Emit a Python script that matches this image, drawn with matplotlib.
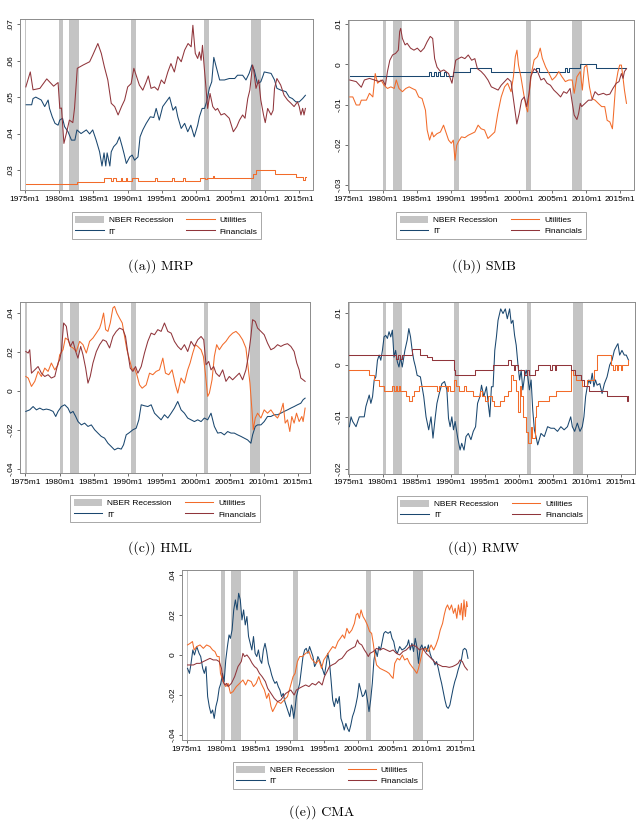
import matplotlib
matplotlib.use("Agg")
import matplotlib.pyplot as plt
from matplotlib.patches import Patch
from matplotlib.lines import Line2D

plt.rcParams['font.family'] = ['Liberation Sans', 'DejaVu Sans']

# NBER recessions (start, end) in fractional years
recessions = [(1975.0, 1975.17), (1980.0, 1980.5), (1981.5, 1982.83),
              (1990.5, 1991.17), (2001.17, 2001.83), (2007.92, 2009.42)]

# ---- (a) MRP ----
mrp_it = [(1975.2,.0479),(1976.0,.0479),(1976.2,.0496),(1976.6,.0500),(1977.4,.0492),(1977.9,.0474),(1978.4,.0492),
          (1978.6,.0469),(1979.0,.0446),(1979.4,.0428),(1979.85,.0423),(1980.1,.0437),(1980.5,.0442),(1980.8,.0419),
          (1981.3,.0405),(1981.8,.0382),(1982.3,.0382),(1982.6,.0410),(1983.2,.0400),(1983.97,.0410),(1984.45,.0399),
          (1984.9,.0410),(1985.4,.0382),(1985.9,.0350),(1986.25,.0311),(1986.55,.0347),(1986.8,.0311),(1987.0,.0347),
          (1987.4,.0311),(1987.6,.0350),(1987.95,.0364),(1988.4,.0373),(1988.8,.0391),(1989.2,.0364),(1989.45,.0346),
          (1989.8,.0318),(1990.3,.0336),(1990.65,.0341),(1991.0,.0327),(1991.5,.0336),(1991.8,.0391),(1992.2,.0410),
          (1992.7,.0428),(1993.3,.0446),(1993.8,.0444),(1994.15,.0469),(1994.6,.0437),(1995.1,.0474),(1995.6,.0487),
          (1996.1,.0500),(1996.6,.0464),(1997.0,.0474),(1997.3,.0446),(1997.8,.0414),(1998.3,.0428),(1998.75,.0405),
          (1999.2,.0423),(1999.7,.0391),(2000.2,.0423),(2000.45,.0446),(2000.85,.0469),(2001.2,.0469),(2001.5,.0487),
          (2001.9,.0524),(2002.25,.0542),(2002.55,.0609),(2002.9,.0583),(2003.4,.0547),(2004.1,.0547),(2004.8,.0551),
          (2005.6,.0551),(2006.0,.0560),(2006.75,.0560),(2007.24,.0547),(2007.7,.0565),(2008.1,.0588),(2008.45,.0574),
          (2008.9,.0537),(2009.4,.0542),(2009.75,.0560),(2009.9,.0569),(2010.9,.0565),(2011.4,.0547),(2011.75,.0524),
          (2012.35,.0519),(2013.06,.0515),(2013.55,.0500),(2014.0,.0496),(2014.5,.0487),(2015.0,.0487),(2015.5,.0496),
          (2015.9,.0505)]
mrp_fin = [(1975.15,.0528),(1975.8,.0569),(1976.2,.0520),(1977.2,.0524),(1978.2,.0550),(1979.2,.0530),(1979.85,.0540),
           (1980.1,.0469),(1980.35,.0470),(1980.7,.0373),(1981.05,.0400),(1981.5,.0437),(1982.0,.0430),(1982.25,.0470),
           (1982.65,.0579),(1983.5,.0588),(1984.45,.0597),(1984.9,.0615),(1985.65,.0647),(1986.15,.0620),(1986.6,.0583),
           (1987.1,.0547),(1987.6,.0483),(1988.1,.0474),(1988.6,.0451),(1989.1,.0474),(1989.55,.0492),(1990.0,.0528),
           (1990.5,.0537),(1990.9,.0579),(1991.3,.0556),(1991.7,.0533),(1992.2,.0519),(1992.7,.0542),(1993.0,.0558),
           (1993.4,.0524),(1993.9,.0528),(1994.4,.0519),(1994.9,.0547),(1995.35,.0537),(1995.85,.0569),(1996.3,.0592),
           (1996.8,.0569),(1997.3,.0611),(1997.8,.0597),(1998.3,.0629),(1998.8,.0647),(1999.25,.0638),(1999.5,.0697),
           (1999.85,.0620),(2000.2,.0606),(2000.45,.0624),(2000.7,.0601),(2000.9,.0642),(2001.15,.0583),(2001.4,.0528),
           (2001.65,.0469),(2002.0,.0510),(2002.4,.0474),(2002.8,.0464),(2003.1,.0469),(2003.6,.0451),(2004.1,.0455),
           (2004.8,.0442),(2005.4,.0405),(2005.9,.0419),(2006.3,.0437),(2006.75,.0451),(2007.1,.0442),(2007.5,.0496),
           (2007.8,.0519),(2008.2,.0588),(2008.35,.0576),(2008.7,.0524),(2009.1,.0547),(2009.4,.0492),(2009.8,.0451),
           (2010.05,.0430),(2010.4,.0469),(2010.9,.0451),(2011.2,.0464),(2011.4,.0524),(2011.75,.0551),(2012.3,.0533),
           (2012.8,.0505),(2013.3,.0492),(2013.8,.0483),(2014.25,.0474),(2014.75,.0487),(2015.0,.0474),(2015.25,.0451),
           (2015.5,.0469),(2015.7,.0451),(2015.9,.0469)]
mrp_util = [(1975.2,.0261),(1982.6,.0268),(1986.6,.0279),(1987.6,.0271),(1987.8,.0279),(1988.3,.0271),(1989.0,.0279),
            (1989.2,.0271),(1989.7,.0279),(1989.9,.0271),(1990.6,.0279),(1991.5,.0271),(1994.0,.0279),(1994.3,.0271),
            (1996.4,.0279),(1996.7,.0271),(1998.0,.0279),(1998.3,.0271),(2000.5,.0279),(2001.3,.0276),(2001.6,.0279),
            (2002.5,.0284),(2002.6,.0279),(2008.2,.0290),(2008.7,.0301),(2011.4,.0290),(2014.5,.0282),(2015.5,.0272),
            (2015.8,.0280),(2016.0,.0280)]

# ---- (b) SMB ----
smb_it = [(1975.15,-.003),(1986.8,-.002),(1987.1,-.003),(1987.5,-.002),(1987.8,-.003),(1988.2,-.002),(1988.5,-.003),
          (1989.0,-.002),(1989.3,-.003),(1990.4,-.002),(1992.9,-.001),(1996.0,-.002),(2002.55,-.001),(2003.0,-.002),
          (2006.9,-.001),(2007.2,-.002),(2007.5,-.001),(2009.1,0.0),(2011.4,-.001),(2015.9,-.001)]
smb_fin = [(1975.15,-.0039),(1976.1,-.0043),(1976.85,-.0057),(1977.3,-.0039),(1978.05,-.0035),(1978.8,-.0039),
           (1979.5,-.0043),(1980.0,-.0039),(1980.4,-.0052),(1980.7,-.0018),(1981.05,.0010),(1981.45,.0023),(1981.9,.0027),
           (1982.3,.0035),(1982.5,.0081),(1982.65,.0089),(1982.9,.0064),(1983.3,.0048),(1983.6,.0052),(1984.1,.0040),
           (1984.6,.0035),(1985.1,.0040),(1985.6,.0031),(1986.1,.0040),(1986.55,.0056),(1987.0,.0069),(1987.36,.0064),
           (1987.65,.0014),(1988.0,-.0007),(1988.5,-.0018),(1989.0,-.0014),(1989.7,-.0023),(1990.2,-.0047),(1990.4,-.0027),
           (1990.75,.0010),(1991.15,.0014),(1991.6,.0018),(1992.1,.0014),(1992.6,.0023),(1993.1,.0010),(1993.57,.0014),
           (1993.95,-.0011),(1994.5,-.0018),(1995.0,-.0027),(1995.5,-.0039),(1996.0,-.0056),(1996.5,-.0060),(1997.0,-.0064),
           (1997.45,-.0052),(1997.95,-.0043),(1998.4,-.0035),(1998.9,-.0043),(1999.4,-.0105),(1999.75,-.0148),
           (2000.1,-.0122),(2000.45,-.0089),(2000.85,-.0081),(2001.2,-.0105),(2001.55,-.0072),(2001.8,-.0031),
           (2002.3,-.0011),(2002.8,-.0018),(2003.3,-.0039),(2003.75,-.0035),(2004.2,-.0047),(2004.7,-.0052),
           (2005.2,-.0064),(2005.7,-.0072),(2006.2,-.0081),(2006.65,-.0068),(2007.1,-.0072),(2007.6,-.0060),
           (2007.85,-.0089),(2008.2,-.0126),(2008.6,-.0137),(2008.85,-.0122),(2009.1,-.0097),(2009.3,-.0105),
           (2009.8,-.0097),(2010.3,-.0089),(2010.8,-.0089),(2011.27,-.0068),(2011.75,-.0076),(2012.5,-.0072),
           (2012.95,-.0076),(2013.45,-.0074),(2013.9,-.0060),(2014.4,-.0047),(2014.8,-.0043),(2015.15,-.0023),
           (2015.4,-.0035),(2015.6,-.0018),(2015.9,-.0011)]
smb_util = [(1975.15,-.0081),(1975.6,-.0081),(1976.1,-.0101),(1976.6,-.0101),(1976.85,-.0089),(1977.6,-.0089),
            (1978.05,-.0072),(1978.55,-.0081),(1978.9,-.0023),(1979.25,-.0047),(1979.75,-.0039),(1980.2,-.0052),
            (1980.7,-.0060),(1981.2,-.0056),(1981.7,-.0060),(1982.0,-.0039),(1982.4,-.0060),(1982.9,-.0068),
            (1983.4,-.0060),(1983.9,-.0056),(1984.35,-.0060),(1984.85,-.0064),(1985.3,-.0081),(1985.8,-.0085),
            (1986.3,-.0114),(1986.55,-.0163),(1986.9,-.0188),(1987.27,-.0168),(1987.5,-.0180),(1988.0,-.0172),
            (1988.5,-.0168),(1988.96,-.0151),(1989.2,-.0163),(1989.7,-.0188),(1990.1,-.0196),(1990.4,-.0188),
            (1990.65,-.0238),(1990.9,-.0201),(1991.15,-.0192),(1991.6,-.0180),(1992.1,-.0182),(1992.6,-.0176),
            (1993.1,-.0172),(1993.57,-.0168),(1994.05,-.0151),(1994.5,-.0160),(1995.0,-.0163),(1995.5,-.0184),
            (1996.0,-.0176),(1996.5,-.0168),(1996.95,-.0122),(1997.45,-.0081),(1997.95,-.0056),(1998.4,-.0047),
            (1998.9,-.0068),(1999.25,-.0031),(1999.53,.0019),(1999.77,.0035),(2000.0,-.0002),(2000.35,-.0031),
            (2000.75,-.0072),(2001.1,-.0105),(2001.35,-.0118),(2001.57,-.0072),(2001.9,-.0023),(2002.3,.0011),
            (2002.8,.0019),(2003.2,.0040),(2003.5,.0015),(2004.0,-.0007),(2004.5,-.0023),(2004.96,-.0039),
            (2005.45,-.0031),(2005.93,-.0018),(2006.4,-.0031),(2006.9,-.0043),(2007.4,-.0039),(2007.9,-.0039),
            (2008.2,-.0072),(2008.6,-.0031),(2009.1,-.0018),(2009.4,-.0064),(2009.7,-.0007),(2010.05,-.0002),
            (2010.45,-.0056),(2010.8,-.0085),(2011.27,-.0089),(2011.75,-.0097),(2012.25,-.0105),(2012.7,-.0105),
            (2013.05,-.0139),(2013.45,-.0143),(2013.83,-.0160),(2014.0,-.0122),(2014.3,-.0052),(2014.65,-.0018),
            (2014.9,-.0002),(2015.15,-.0002),(2015.4,-.0035),(2015.6,-.0064),(2015.9,-.0097)]

# ---- (c) HML ----
hml_it = [(1975.05,-.0104),(1975.63,-.0096),(1976.12,-.0079),(1976.61,-.0096),(1977.1,-.0087),(1977.59,-.0096),
          (1978.07,-.0092),(1978.56,-.0096),(1979.05,-.0104),(1979.44,-.0130),(1979.78,-.0104),(1980.27,-.0079),
          (1980.76,-.0070),(1981.24,-.0087),(1981.59,-.0113),(1981.98,-.0104),(1982.37,-.0130),(1982.71,-.0156),
          (1983.2,-.0173),(1983.68,-.0164),(1984.17,-.0181),(1984.66,-.0173),(1985.15,-.0198),(1985.63,-.0215),
          (1986.12,-.0232),(1986.61,-.0241),(1987.1,-.0267),(1987.59,-.0284),(1988.07,-.0301),(1988.56,-.0292),
          (1989.05,-.0297),(1989.39,-.0275),(1989.78,-.0224),(1990.27,-.0212),(1990.76,-.0198),(1991.24,-.0190),
          (1991.63,-.0147),(1991.98,-.0070),(1992.46,-.0075),(1992.95,-.0079),(1993.44,-.0070),(1993.93,-.0113),
          (1994.41,-.0130),(1994.9,-.0147),(1995.39,-.0121),(1995.88,-.0138),(1996.37,-.0113),(1996.85,-.0087),
          (1997.34,-.0053),(1997.83,-.0096),(1998.32,-.0113),(1998.8,-.0138),(1999.29,-.0147),(1999.78,-.0156),
          (2000.27,-.0147),(2000.76,-.0156),(2001.24,-.0138),(2001.73,-.0147),(2002.22,-.0113),(2002.71,-.0181),
          (2003.2,-.0215),(2003.68,-.0212),(2004.17,-.0224),(2004.66,-.0207),(2005.15,-.0215),(2005.63,-.0215),
          (2006.12,-.0224),(2006.61,-.0232),(2007.1,-.0241),(2007.59,-.0250),(2008.07,-.0267),(2008.32,-.0224),
          (2008.71,-.0181),(2009.05,-.0173),(2009.54,-.0173),(2010.02,-.0156),(2010.51,-.0130),(2011.0,-.0130),
          (2011.49,-.0121),(2011.98,-.0121),(2012.46,-.0113),(2012.95,-.0104),(2013.44,-.0096),(2013.93,-.0087),
          (2014.41,-.0079),(2014.9,-.0070),(2015.39,-.0062),(2015.73,-.0044),(2016.02,-.0036)]
hml_fin = [(1975.05,.0203),(1975.4,.0195),(1975.63,.0212),(1975.88,.0092),(1976.37,.0109),(1976.85,.0126),
           (1977.34,.0092),(1977.83,.0075),(1978.32,.0084),(1978.8,.0067),(1979.3,.0075),(1979.78,.0144),(1980.02,.0161),
           (1980.27,.0203),(1980.6,.0349),(1981.0,.0332),(1981.24,.0272),(1981.59,.0229),(1981.98,.0255),(1982.37,.0203),
           (1982.7,.0169),(1983.1,.0229),(1983.44,.0186),(1983.83,.0118),(1984.17,.0041),(1984.5,.0075),(1984.9,.0144),
           (1985.4,.0203),(1985.88,.0238),(1986.37,.0263),(1986.85,.0255),(1987.34,.0221),(1987.83,.0280),(1988.32,.0306),
           (1988.8,.0323),(1989.3,.0315),(1989.68,.0280),(1990.02,.0195),(1990.37,.0118),(1990.76,.0101),(1991.15,.0126),
           (1991.49,.0092),(1991.98,.0126),(1992.46,.0195),(1992.95,.0255),(1993.44,.0297),(1993.93,.0289),(1994.41,.0315),
           (1994.9,.0306),(1995.39,.0349),(1995.88,.0306),(1996.37,.0297),(1996.85,.0255),(1997.34,.0229),(1997.83,.0212),
           (1998.32,.0238),(1998.8,.0203),(1999.29,.0255),(1999.78,.0229),(2000.27,.0263),(2000.76,.0280),(2001.15,.0263),
           (2001.49,.0135),(2001.88,.0152),(2002.22,.0109),(2002.61,.0126),(2002.95,.0092),(2003.44,.0075),(2003.93,.0109),
           (2004.41,.0050),(2004.9,.0075),(2005.39,.0058),(2005.88,.0075),(2006.37,.0092),(2006.85,.0058),(2007.34,.0109),
           (2007.73,.0186),(2008.07,.0280),(2008.32,.0366),(2008.71,.0357),(2009.05,.0323),(2009.54,.0306),(2010.02,.0289),
           (2010.51,.0246),(2011.0,.0212),(2011.49,.0221),(2011.98,.0238),(2012.46,.0229),(2012.95,.0238),(2013.44,.0243),
           (2013.93,.0229),(2014.41,.0203),(2014.8,.0144),(2015.15,.0109),(2015.39,.0067),(2015.73,.0058),(2016.02,.0050)]
hml_util = [(1975.05,.0075),(1975.4,.0067),(1975.88,.0024),(1976.37,.0050),(1976.85,.0101),(1977.34,.0075),
            (1977.83,.0118),(1978.32,.0101),(1978.8,.0144),(1979.3,.0109),(1979.78,.0135),(1980.02,.0186),(1980.51,.0212),
            (1980.85,.0272),(1981.24,.0263),(1981.59,.0229),(1981.98,.0221),(1982.46,.0203),(1982.95,.0255),
            (1983.44,.0238),(1983.93,.0195),(1984.41,.0255),(1984.9,.0272),(1985.39,.0297),(1985.88,.0323),
            (1986.12,.0349),(1986.46,.0400),(1986.76,.0315),(1987.1,.0306),(1987.44,.0349),(1987.83,.0426),
            (1988.07,.0434),(1988.41,.0400),(1988.8,.0374),(1989.2,.0349),(1989.54,.0280),(1989.88,.0212),
            (1990.27,.0161),(1990.66,.0109),(1991.0,.0118),(1991.34,.0084),(1991.73,.0032),(1992.12,.0015),
            (1992.71,.0032),(1993.2,.0092),(1993.68,.0084),(1994.17,.0101),(1994.66,.0109),(1995.15,.0169),
            (1995.54,.0092),(1996.02,.0084),(1996.51,.0109),(1997.0,.0032),(1997.34,-.0010),(1997.83,.0067),
            (1998.32,.0041),(1998.8,.0109),(1999.15,.0144),(1999.54,.0195),(1999.93,.0238),(2000.27,.0229),
            (2000.76,.0212),(2001.1,.0178),(2001.39,.0092),(2001.73,-.0027),(2001.98,-.0010),(2002.37,.0058),
            (2002.71,.0178),(2003.05,.0238),(2003.44,.0212),(2003.93,.0238),(2004.41,.0255),(2004.9,.0280),
            (2005.39,.0297),(2005.88,.0306),(2006.37,.0289),(2006.85,.0263),(2007.34,.0221),(2007.59,.0144),
            (2007.93,.0041),(2008.22,-.0096),(2008.41,-.0198),(2008.71,-.0138),(2009.05,-.0113),(2009.54,-.0138),
            (2010.02,-.0096),(2010.51,-.0113),(2011.0,-.0096),(2011.49,-.0121),(2011.98,-.0138),(2012.46,-.0104),
            (2012.8,-.0062),(2013.1,-.0164),(2013.44,-.0147),(2013.78,-.0207),(2014.07,-.0130),(2014.41,-.0164),
            (2014.76,-.0113),(2015.15,-.0156),(2015.54,-.0130),(2015.73,-.0156),(2016.02,-.0087)]

# ---- (d) RMW ----
rmw_it = [(1975.1,-.0119),(1975.34,-.0100),(1975.58,-.0109),(1976.07,-.0119),(1976.55,-.0100),(1977.28,-.0100),
          (1977.52,-.0080),(1978.01,-.0058),(1978.25,-.0074),(1978.5,-.0061),(1978.74,-.0029),(1978.98,-.0023),
          (1979.22,.0009),(1979.47,.0019),(1979.71,.0009),(1979.95,.0028),(1980.19,.0054),(1980.44,.0057),
          (1980.68,.0051),(1980.92,.0064),(1981.17,.0054),(1981.41,.0067),(1981.65,.0015),(1981.89,.0028),
          (1982.14,.0006),(1982.38,-.0004),(1982.62,.0015),(1982.86,-.0004),(1983.25,.0028),(1983.59,.0048),
          (1983.83,.0070),(1984.08,.0054),(1984.32,.0028),(1984.56,.0009),(1984.81,-.0004),(1985.05,-.0020),
          (1985.53,-.0023),(1986.02,-.0061),(1986.36,-.0100),(1986.75,-.0125),(1987.09,-.0100),(1987.38,-.0141),
          (1987.72,-.0100),(1987.96,-.0074),(1988.3,-.0055),(1988.69,-.0036),(1989.08,-.0032),(1989.42,-.0048),
          (1989.66,-.0103),(1989.9,-.0119),(1990.15,-.0100),(1990.39,-.0125),(1990.63,-.0109),(1991.02,-.0141),
          (1991.36,-.0164),(1991.6,-.0151),(1991.94,-.0164),(1992.23,-.0138),(1992.57,-.0132),(1992.96,-.0144),
          (1993.3,-.0128),(1993.64,-.0119),(1993.93,-.0074),(1994.27,-.0061),(1994.51,-.0039),(1994.85,-.0061),
          (1995.24,-.0042),(1995.49,-.0074),(1995.73,-.0100),(1995.97,-.0042),(1996.21,-.0042),(1996.46,.0028),
          (1996.7,.0054),(1996.94,.0086),(1997.33,.0108),(1997.67,.0099),(1998.01,.0108),(1998.3,.0089),
          (1998.64,.0108),(1998.88,.0080),(1999.13,.0086),(1999.37,.0057),(1999.61,.0038),(1999.85,.0003),
          (2000.1,-.0029),(2000.34,-.0010),(2000.58,-.0048),(2000.83,-.0023),(2001.07,-.0010),(2001.31,-.0023),
          (2001.55,-.0048),(2001.8,-.0029),(2002.04,-.0087),(2002.28,-.0125),(2002.52,-.0138),(2002.77,-.0154),
          (2003.25,-.0132),(2003.74,-.0138),(2004.22,-.0119),(2004.71,-.0122),(2005.19,-.0122),(2005.68,-.0128),
          (2006.17,-.0119),(2006.65,-.0125),(2007.14,-.0119),(2007.62,-.0100),(2007.86,-.0119),(2008.2,-.0128),
          (2008.59,-.0112),(2008.98,-.0128),(2009.32,-.0119),(2009.56,-.0100),(2009.81,-.0061),(2010.05,-.0042),
          (2010.29,-.0029),(2010.53,-.0036),(2010.78,-.0016),(2011.02,-.0042),(2011.26,-.0029),(2011.5,-.0039),
          (2011.89,-.0036),(2012.23,-.0055),(2012.57,-.0036),(2012.96,-.0023),(2013.35,.0000),(2013.69,.0009),
          (2014.03,.0028),(2014.42,.0038),(2014.56,.0041),(2014.81,.0019),(2015.15,.0028),(2015.49,.0019),
          (2015.78,.0019),(2016.12,.0009)]
rmw_fin = [(1975.1,.002),(1981.9,.0012),(1982.2,.002),(1982.5,.0012),(1982.8,.002),(1984.3,.003),(1985.5,.002),
           (1986.5,.0015),(1987.2,.001),(1990.4,-.001),(1990.6,-.002),(1993.5,-.001),(1996.2,0.0),(1998.4,.001),
           (1998.9,0.0),(1999.3,-.001),(1999.5,0.0),(1999.85,-.001),(2000.8,-.002),(2001.2,-.001),(2001.5,-.002),
           (2002.3,-.001),(2002.8,0.0),(2004.6,-.001),(2004.8,0.0),(2005.3,-.001),(2005.5,0.0),(2007.6,-.001),
           (2008.3,-.002),(2009.1,-.003),(2009.6,-.004),(2010.3,-.005),(2013.0,-.006),(2015.9,-.007),(2016.1,-.006)]
rmw_util = [(1975.1,-.001),(1978.0,-.002),(1978.75,-.003),(1979.5,-.004),(1980.2,-.005),(1981.4,-.004),
            (1981.6,-.005),(1981.9,-.004),(1982.1,-.005),(1982.4,-.004),(1982.6,-.005),(1983.35,-.006),
            (1983.85,-.007),(1984.3,-.006),(1984.55,-.005),(1985.3,-.004),(1988.0,-.005),(1988.3,-.004),
            (1989.4,-.005),(1989.6,-.004),(1989.9,-.005),(1990.4,-.003),(1990.7,-.004),(1991.2,-.005),
            (1992.0,-.004),(1992.3,-.005),(1993.3,-.006),(1994.3,-.005),(1994.6,-.006),(1995.0,-.007),
            (1995.5,-.006),(1996.0,-.007),(1996.4,-.008),(1997.3,-.007),(1997.8,-.006),(1998.4,-.005),
            (1998.9,-.002),(1999.2,-.003),(1999.6,-.005),(1999.85,-.009),(2000.1,-.004),(2000.35,-.006),
            (2000.6,-.010),(2001.1,-.013),(2001.4,-.015),(2001.8,-.012),(2002.0,-.014),(2002.3,-.010),
            (2002.55,-.008),(2002.8,-.007),(2004.5,-.006),(2005.5,-.005),(2007.6,-.001),(2007.9,-.002),
            (2008.4,-.003),(2009.3,-.004),(2010.0,-.003),(2011.0,-.001),(2011.5,.002),(2013.5,0.0),
            (2013.9,-.001),(2014.1,0.0),(2014.4,-.001),(2014.6,0.0),(2015.0,-.001),(2015.2,0.0),(2016.0,.001),
            (2016.1,.001)]

# ---- (e) CMA ----
cma_it = [(1975.1,-.0067),(1975.38,-.0092),(1975.58,-.0050),(1975.87,.0025),(1976.11,.0000),(1976.44,.0042),
          (1976.78,.0008),(1977.02,-.0008),(1977.31,-.0067),(1977.55,-.0092),(1977.79,-.0058),(1978.03,-.0208),
          (1978.27,-.0258),(1978.51,-.0292),(1978.75,-.0275),(1978.99,-.0317),(1979.23,-.0258),(1979.47,-.0225),
          (1979.71,-.0167),(1979.95,-.0142),(1980.19,-.0092),(1980.43,-.0133),(1980.67,-.0025),(1980.91,.0042),
          (1981.15,.0100),(1981.35,.0083),(1981.59,.0125),(1981.83,.0225),(1982.07,.0275),(1982.31,.0225),
          (1982.55,.0308),(1982.79,.0275),(1983.03,.0175),(1983.27,.0225),(1983.51,.0150),(1983.75,.0192),
          (1983.99,.0092),(1984.23,.0058),(1984.47,.0025),(1984.71,.0092),(1984.95,.0008),(1985.19,-.0008),
          (1985.43,.0025),(1985.67,-.0025),(1985.91,-.0042),(1986.15,.0025),(1986.39,.0058),(1986.63,.0017),
          (1986.88,-.0042),(1987.12,-.0067),(1987.36,-.0100),(1987.6,-.0125),(1987.84,-.0142),(1988.08,-.0133),
          (1988.32,-.0158),(1988.56,-.0175),(1988.8,-.0208),(1989.04,-.0192),(1989.28,-.0233),(1989.52,-.0258),
          (1989.76,-.0283),(1990.0,-.0308),(1990.24,-.0250),(1990.38,-.0267),(1990.58,-.0317),(1990.77,-.0267),
          (1990.96,-.0208),(1991.2,-.0175),(1991.44,-.0142),(1991.68,-.0075),(1991.92,-.0008),(1992.16,.0025),
          (1992.4,.0033),(1992.64,.0008),(1992.88,.0042),(1993.13,.0017),(1993.37,-.0008),(1993.61,-.0058),
          (1993.85,-.0042),(1994.09,-.0008),(1994.33,-.0025),(1994.57,-.0050),(1994.81,-.0075),(1995.05,-.0100),
          (1995.29,-.0050),(1995.53,.0008),(1995.77,-.0033),(1996.01,-.0125),(1996.25,-.0225),(1996.49,-.0258),
          (1996.73,-.0217),(1996.97,-.0242),(1997.21,-.0208),(1997.45,-.0317),(1997.69,-.0342),(1997.93,-.0375),
          (1998.17,-.0342),(1998.41,-.0367),(1998.65,-.0383),(1998.89,-.0350),(1999.13,-.0308),(1999.38,-.0283),
          (1999.62,-.0250),(1999.86,-.0208),(2000.1,-.0142),(2000.34,-.0175),(2000.58,-.0208),(2000.82,-.0200),
          (2001.06,-.0175),(2001.3,-.0225),(2001.54,-.0283),(2001.78,-.0225),(2002.02,-.0142),(2002.26,-.0025),
          (2002.5,.0025),(2002.74,-.0008),(2002.98,.0042),(2003.22,.0025),(2003.46,.0067),(2003.7,.0108),
          (2003.94,.0117),(2004.33,.0108),(2004.66,.0117),(2004.9,.0083),(2005.14,.0067),(2005.38,.0025),
          (2005.67,.0008),(2006.01,.0042),(2006.35,.0025),(2006.73,.0033),(2007.12,.0050),(2007.31,.0075),
          (2007.55,.0025),(2007.79,.0058),(2008.03,.0017),(2008.27,.0083),(2008.51,.0042),(2008.75,-.0042),
          (2008.99,.0033),(2009.23,.0050),(2009.47,.0025),(2009.71,.0042),(2009.95,.0017),(2010.19,.0050),
          (2010.43,.0008),(2010.67,-.0017),(2010.91,-.0025),(2011.15,-.0050),(2011.39,-.0033),(2011.63,-.0067),
          (2011.88,-.0108),(2012.12,-.0142),(2012.36,-.0183),(2012.6,-.0225),(2012.84,-.0258),(2013.08,-.0267),
          (2013.32,-.0250),(2013.56,-.0208),(2013.8,-.0167),(2014.04,-.0133),(2014.28,-.0108),(2014.52,-.0075),
          (2014.76,-.0050),(2015.0,-.0025),(2015.24,.0025),(2015.48,.0033),(2015.72,.0025),(2015.96,-.0017)]
cma_fin = [(1975.1,-.0050),(1975.96,-.0050),(1976.44,-.0042),(1976.92,-.0042),(1977.4,-.0033),(1977.88,-.0025),
           (1978.37,-.0017),(1978.85,-.0025),(1979.33,-.0025),(1979.71,-.0033),(1980.05,-.0067),(1980.29,-.0133),
           (1980.53,-.0150),(1980.77,-.0142),(1981.01,-.0158),(1981.49,-.0142),(1981.97,-.0108),(1982.45,-.0058),
           (1982.93,-.0033),(1983.17,.0008),(1983.41,-.0008),(1983.75,.0000),(1984.13,-.0017),(1984.52,-.0042),
           (1984.86,-.0058),(1985.19,-.0067),(1985.58,-.0092),(1985.96,-.0108),(1986.44,-.0133),(1986.78,-.0167),
           (1987.26,-.0192),(1987.74,-.0217),(1988.22,-.0233),(1988.7,-.0225),(1989.04,-.0208),(1989.42,-.0192),
           (1989.81,-.0183),(1990.14,-.0175),(1990.63,-.0200),(1990.96,-.0175),(1991.35,-.0167),(1991.83,-.0158),
           (1992.31,-.0150),(1992.79,-.0158),(1993.27,-.0142),(1993.75,-.0150),(1994.23,-.0133),(1994.71,-.0150),
           (1995.05,-.0108),(1995.43,-.0083),(1995.77,-.0058),(1996.15,-.0050),(1996.63,-.0042),(1997.12,-.0025),
           (1997.6,-.0017),(1997.98,.0000),(1998.32,.0017),(1998.65,.0025),(1999.04,.0033),(1999.52,.0042),
           (1999.86,.0075),(2000.1,.0058),(2000.48,.0050),(2000.87,.0025),(2001.2,.0008),(2001.44,-.0008),
           (2001.68,.0008),(2002.16,.0017),(2002.64,.0033),(2003.13,.0025),(2003.61,.0033),(2004.09,.0025),
           (2004.57,.0017),(2005.05,.0025),(2005.53,.0008),(2006.01,.0000),(2006.49,.0017),(2006.97,.0025),
           (2007.45,.0042),(2007.93,.0050),(2008.41,.0042),(2008.89,.0025),(2009.38,.0033),(2009.86,.0008),
           (2010.34,-.0008),(2010.82,-.0025),(2011.3,-.0042),(2011.78,-.0050),(2012.26,-.0058),(2012.74,-.0058),
           (2013.22,-.0062),(2013.7,-.0058),(2014.18,-.0050),(2014.52,-.0042),(2014.81,-.0025),(2015.14,-.0033),
           (2015.48,-.0058),(2015.87,-.0075)]
cma_util = [(1975.1,.0050),(1975.48,.0058),(1975.82,.0067),(1976.06,.0025),(1976.44,.0042),(1976.92,.0050),
            (1977.4,.0033),(1977.88,.0050),(1978.37,.0042),(1978.75,.0025),(1979.09,.0017),(1979.42,-.0008),
            (1979.71,-.0008),(1979.9,-.0092),(1980.29,-.0133),(1980.67,-.0158),(1981.01,-.0142),(1981.35,-.0192),
            (1981.73,-.0183),(1982.21,-.0158),(1982.69,-.0142),(1983.17,-.0125),(1983.56,-.0150),(1983.89,-.0125),
            (1984.38,-.0133),(1984.71,-.0158),(1985.1,-.0142),(1985.48,-.0108),(1985.82,-.0142),(1986.3,-.0175),
            (1986.63,-.0217),(1986.92,-.0192),(1987.26,-.0258),(1987.5,-.0283),(1987.88,-.0258),(1988.22,-.0233),
            (1988.7,-.0242),(1989.18,-.0225),(1989.66,-.0208),(1990.14,-.0150),(1990.48,-.0108),(1990.77,-.0092),
            (1991.11,-.0033),(1991.44,-.0008),(1991.83,-.0008),(1992.31,.0008),(1992.79,.0017),(1993.13,-.0017),
            (1993.51,-.0033),(1993.85,-.0042),(1994.23,-.0025),(1994.62,-.0067),(1994.95,-.0025),(1995.43,.0000),
            (1995.91,.0025),(1996.25,.0042),(1996.63,.0033),(1997.02,.0067),(1997.36,.0083),(1997.69,.0100),
            (1997.98,.0083),(1998.32,.0133),(1998.65,.0108),(1999.04,.0125),(1999.42,.0158),(1999.66,.0200),
            (1999.9,.0208),(2000.14,.0183),(2000.38,.0225),(2000.67,.0192),(2000.96,.0175),(2001.3,.0150),
            (2001.63,.0117),(2001.92,.0108),(2002.16,.0058),(2002.4,-.0008),(2002.64,-.0050),(2003.13,-.0067),
            (2003.61,-.0075),(2004.09,-.0083),(2004.47,-.0092),(2004.81,-.0108),(2005.05,-.0117),(2005.29,-.0042),
            (2005.67,-.0017),(2006.01,-.0025),(2006.39,.0000),(2006.73,-.0025),(2007.12,-.0017),(2007.45,-.0042),
            (2007.79,-.0058),(2008.17,-.0075),(2008.51,-.0092),(2008.75,-.0067),(2009.04,-.0025),(2009.38,.0025),
            (2009.86,.0033),(2010.19,.0017),(2010.58,.0050),(2010.96,.0025),(2011.3,.0050),(2011.63,.0083),
            (2011.92,.0125),(2012.26,.0158),(2012.5,.0200),(2012.74,.0233),(2012.98,.0250),(2013.27,.0225),
            (2013.56,.0250),(2013.85,.0208),(2014.09,.0233),(2014.33,.0183),(2014.57,.0250),(2014.81,.0200),
            (2015.0,.0258),(2015.19,.0175),(2015.38,.0275),(2015.58,.0192),(2015.77,.0267),(2015.87,.0242)]

xticks = [1975, 1980, 1985, 1990, 1995, 2000, 2005, 2010, 2015]
xticklabels = [f"{y}m1" for y in xticks]

c_it = '#1a476f'
c_util = '#f26b2a'
c_fin = '#90353b'
c_rec = '#c4c4c4'


def ylab(v):
    if abs(v) < 1e-9:
        return "0"
    s = f"{v:.2f}"
    return s.replace("0.", ".")


def panel(rect, it, util, fin, xlim, ylim, yticks, steps=()):
    ax = fig.add_axes(rect)
    for a, b in recessions:
        ax.axvspan(a, b, color=c_rec, lw=0, zorder=1)
    for name, data, col in (('it', it, c_it), ('util', util, c_util), ('fin', fin, c_fin)):
        t, v = zip(*data)
        ds = 'steps-post' if name in steps else 'default'
        ax.plot(t, v, color=col, lw=0.75, drawstyle=ds, zorder=3)
    ax.set_xlim(*xlim)
    ax.set_ylim(*ylim)
    ax.set_xticks(xticks)
    ax.set_xticklabels(xticklabels)
    ax.set_yticks(yticks)
    ax.set_yticklabels([ylab(v) for v in yticks], rotation=90, va='center')
    ax.tick_params(labelsize=6, length=2.5, width=0.6, color='#555555', pad=1.5)
    for s in ax.spines.values():
        s.set_color('#8c8c8c')
        s.set_linewidth(0.7)
    handles = [Patch(facecolor=c_rec, edgecolor='none'),
               Line2D([], [], color=c_it, lw=0.75),
               Line2D([], [], color=c_util, lw=0.75),
               Line2D([], [], color=c_fin, lw=0.75)]
    labels = ['NBER Recession', 'IT', 'Utilities', 'Financials']
    leg = ax.legend(handles, labels, ncol=2, loc='upper center', bbox_to_anchor=(0.5, -0.105),
                    fontsize=6, frameon=True, fancybox=False, edgecolor='#9a9a9a', framealpha=1,
                    handlelength=3.4, handleheight=0.9, handletextpad=0.6, columnspacing=1.6,
                    labelspacing=0.35, borderpad=0.45)
    leg.get_frame().set_linewidth(0.6)
    return ax


fig = plt.figure(figsize=(6.41, 8.30), dpi=100)

panel([0.0312, 0.771, 0.457, 0.206], mrp_it, mrp_util, mrp_fin,
      (1974.3, 2017.0), (0.0245, 0.0714), [0.03, 0.04, 0.05, 0.06, 0.07], steps=('util',))
panel([0.543, 0.771, 0.446, 0.205], smb_it, smb_util, smb_fin,
      (1974.9, 2017.0), (-0.0312, 0.011), [-0.03, -0.02, -0.01, 0.0, 0.01], steps=('it',))
panel([0.0312, 0.430, 0.452, 0.206], hml_it, hml_util, hml_fin,
      (1974.2, 2016.7), (-0.042, 0.0456), [-0.04, -0.02, 0.0, 0.02, 0.04])
panel([0.543, 0.429, 0.448, 0.207], rmw_it, rmw_util, rmw_fin,
      (1974.9, 2017.1), (-0.021, 0.0121), [-0.02, -0.01, 0.0, 0.01], steps=('util', 'fin'))
panel([0.284, 0.1084, 0.454, 0.205], cma_it, cma_util, cma_fin,
      (1974.3, 2016.7), (-0.0425, 0.0425), [-0.04, -0.02, 0.0, 0.02, 0.04])

cap = dict(ha='center', va='center', fontsize=10, family='cmr10')
fig.text(0.25, 0.6795, '((a)) MRP', **cap)
fig.text(0.755, 0.6795, '((b)) SMB', **cap)
fig.text(0.25, 0.3398, '((c)) HML', **cap)
fig.text(0.755, 0.3398, '((d)) RMW', **cap)
fig.text(0.502, 0.0217, '((e)) CMA', **cap)

fig.savefig('out.png', dpi=100)
